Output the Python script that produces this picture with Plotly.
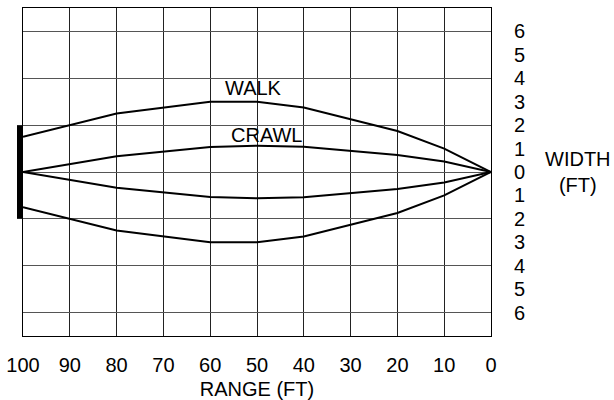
import plotly.graph_objects as go

# Range (ft) along the path
range_ft = [100, 80, 60, 50, 40, 20, 10, 0]
# Half-width (ft) of each detection envelope
walk_width = [1.5, 2.5, 3.0, 3.0, 2.75, 1.75, 1.0, 0.0]
crawl_width = [0.0, 0.67, 1.07, 1.12, 1.08, 0.73, 0.45, 0.0]

x_ticks = [100, 90, 80, 70, 60, 50, 40, 30, 20, 10, 0]
y_ticks = [-6, -5, -4, -3, -2, -1, 0, 1, 2, 3, 4, 5, 6]
y_grid = [-6, -4, -2, 0, 2, 4, 6]
y_limits = [-7, 7]

# Sensor (emitter) at range 100, spanning width -2..2
sensor_span = [-2, 2]

FONT = "Liberation Sans, Arial, sans-serif"
FS = 20
line_style = dict(color="black", width=2)

fig = go.Figure()
for vals in (walk_width, crawl_width):
    fig.add_trace(go.Scatter(x=range_ft, y=vals, mode="lines", line=line_style,
                             showlegend=False, hoverinfo="skip"))
    fig.add_trace(go.Scatter(x=range_ft, y=[-v for v in vals], mode="lines", line=line_style,
                             showlegend=False, hoverinfo="skip"))

# invisible trace to carry label axis
fig.add_trace(go.Scatter(x=[range_ft[0]], y=[0], yaxis="y2", mode="markers",
                         marker=dict(opacity=0), showlegend=False, hoverinfo="skip"))

# sensor bar just outside the left edge (range 100 end of the axis)
fig.add_shape(type="rect", xref="paper", yref="y", xsizemode="pixel", xanchor=0,
              x0=-6, x1=0, y0=sensor_span[0], y1=sensor_span[1],
              fillcolor="black", line=dict(width=0), layer="above")

fig.add_annotation(x=50.8, y=3.6, text="WALK", showarrow=False,
                   font=dict(family=FONT, size=FS, color="black"))
fig.add_annotation(x=48, y=1.58, text="CRAWL", showarrow=False,
                   font=dict(family=FONT, size=FS, color="black"))
fig.add_annotation(xref="paper", yref="paper", x=1.185, y=0.5, text="WIDTH<br>(FT)",
                   showarrow=False, align="center", xanchor="center",
                   font=dict(family=FONT, size=FS, color="black"))

fig.update_layout(
    width=614, height=400,
    margin=dict(l=23, r=123, t=8, b=64),
    paper_bgcolor="white", plot_bgcolor="white",
    font=dict(family=FONT, size=FS, color="black"),
    xaxis=dict(range=[100, 0], tickvals=x_ticks, ticktext=[str(v) for v in x_ticks],
               showgrid=True, gridcolor="#222", gridwidth=1,
               showline=True, linecolor="black", linewidth=1, mirror=True,
               zeroline=False, ticks="", ticklabelstandoff=11,
               title=dict(text="RANGE (FT)", standoff=8, font=dict(size=FS)),
               automargin=False),
    yaxis=dict(range=y_limits, tickvals=y_grid, showticklabels=False,
               showgrid=True, gridcolor="#555", gridwidth=1,
               showline=True, linecolor="black", linewidth=1, mirror=True,
               zeroline=False, ticks="", automargin=False),
    yaxis2=dict(range=y_limits, overlaying="y", side="right", tickvals=y_ticks,
                ticktext=[str(abs(v)) for v in y_ticks], showgrid=False,
                zeroline=False, showline=False, ticks="", ticklabelstandoff=22,
                automargin=False),
)

fig.write_html("out.html", config={"displayModeBar": False},
               post_script="document.body.style.margin='0px';document.body.style.overflow='hidden';")
